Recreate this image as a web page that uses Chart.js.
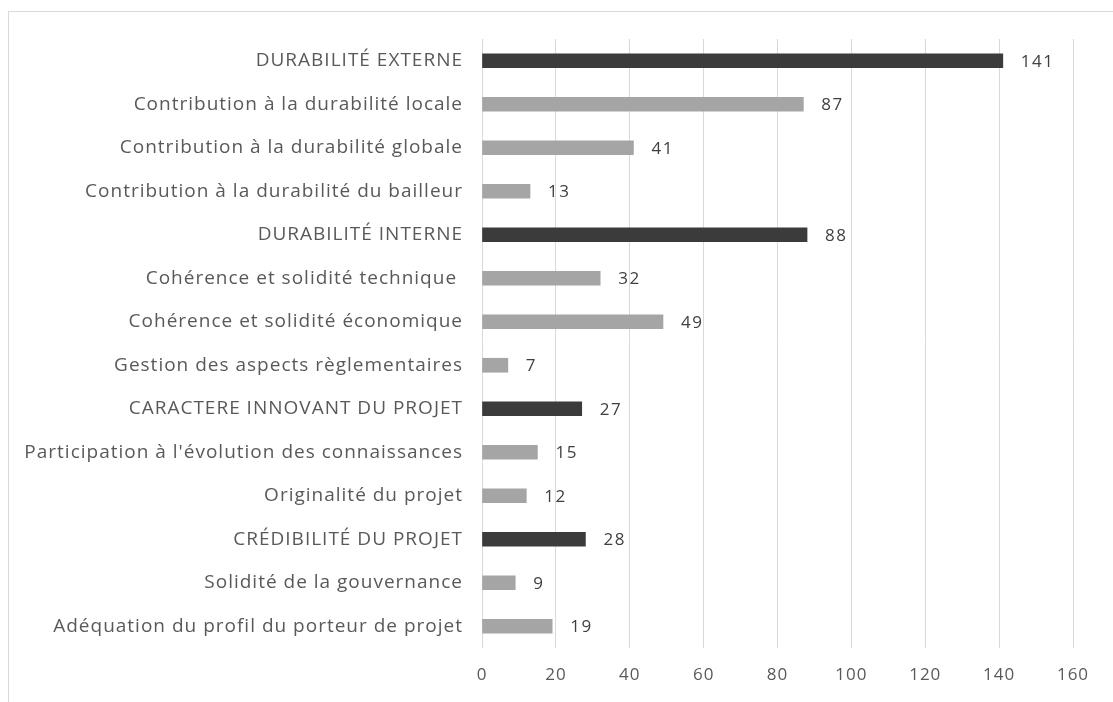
<!DOCTYPE html>
<html>
<head>
<meta charset="utf-8">
<script src="https://cdn.jsdelivr.net/npm/chart.js@4/dist/chart.umd.min.js"></script>
<style>
  html, body { margin: 0; padding: 0; background: #fff; }
  #wrap { position: relative; width: 1113px; height: 702px; overflow: hidden; }
  #frame { position: absolute; left: 8px; top: 11px; width: 1200px; height: 800px; border: 1px solid #d9d9d9; }
  canvas { position: absolute; left: 0; top: 0; }
</style>
</head>
<body>
<div id="wrap">
  <div id="frame"></div>
  <canvas id="chart-criteres" width="1113" height="702"></canvas>
</div>
<script>
var categories = [
  "DURABILITÉ EXTERNE",
  "Contribution à la durabilité locale",
  "Contribution à la durabilité globale",
  "Contribution à la durabilité du bailleur",
  "DURABILITÉ INTERNE",
  "Cohérence et solidité technique ",
  "Cohérence et solidité économique",
  "Gestion des aspects règlementaires",
  "CARACTERE INNOVANT DU PROJET",
  "Participation à l'évolution des connaissances",
  "Originalité du projet",
  "CRÉDIBILITÉ DU PROJET",
  "Solidité de la gouvernance",
  "Adéquation du profil du porteur de projet"
];
var values = [141, 87, 41, 13, 88, 32, 49, 7, 27, 15, 12, 28, 9, 19];
var xTicks = [0, 20, 40, 60, 80, 100, 120, 140, 160];

// headings are the upper-case rows
var barColors = categories.map(function (c) {
  return c === c.toUpperCase() ? "#3b3b3b" : "#a5a5a5";
});

// the Excel text is rendered quite loose, so widen the letters a bit
var looseText = {
  id: "looseText",
  beforeDraw: function (chart) {
    chart.ctx.letterSpacing = "1px";
  }
};

var valueLabels = {
  id: "valueLabels",
  afterDatasetsDraw: function (chart) {
    var ctx = chart.ctx;
    var meta = chart.getDatasetMeta(0);
    ctx.save();
    ctx.letterSpacing = "1.5px";
    ctx.font = "17px 'Open Sans'";
    ctx.fillStyle = "#404040";
    ctx.textAlign = "left";
    ctx.textBaseline = "middle";
    meta.data.forEach(function (bar, i) {
      ctx.fillText(values[i], bar.x + 18, bar.y + 1);
    });
    ctx.restore();
  }
};

var ctx = document.getElementById("chart-criteres").getContext("2d");

var myChart = new Chart(ctx, {
  type: "bar",
  data: {
    labels: categories,
    datasets: [{
      data: values,
      backgroundColor: barColors,
      borderColor: barColors,
      borderWidth: 0,
      barThickness: 14
    }]
  },
  options: {
    indexAxis: "y",
    responsive: false,
    animation: false,
    layout: { padding: { top: 39, right: 40, left: 0, bottom: 0 } },
    plugins: {
      legend: { display: false },
      tooltip: { enabled: false }
    },
    scales: {
      x: {
        min: 0,
        max: 160,
        afterBuildTicks: function (axis) {
          axis.ticks = xTicks.map(function (v) { return { value: v }; });
        },
        afterFit: function (axis) { axis.height = 54; },
        grid: { color: "#d9d9d9", lineWidth: 1, drawTicks: false },
        border: { display: false },
        ticks: {
          padding: 17,
          color: "#595959",
          font: { family: "'Open Sans'", size: 17 }
        }
      },
      y: {
        afterFit: function (axis) { axis.width = 482; },
        grid: { display: false, drawTicks: false },
        border: { display: false },
        ticks: {
          padding: 19,
          autoSkip: false,
          color: "#595959",
          font: { family: "'Open Sans'", size: 19 }
        }
      }
    }
  },
  plugins: [looseText, valueLabels]
});
</script>
</body>
</html>
